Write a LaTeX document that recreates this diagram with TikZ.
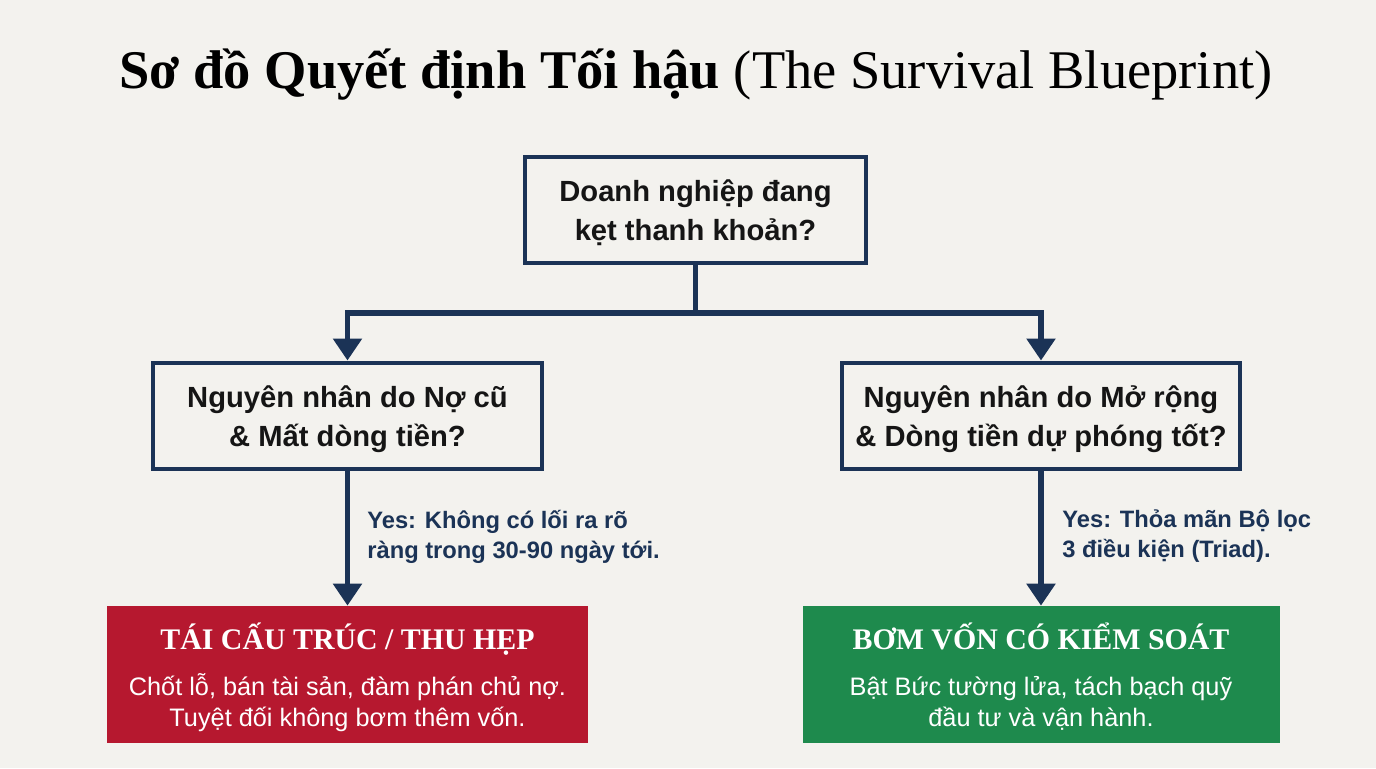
\documentclass[tikz,border=0pt]{standalone}
\usepackage{fontspec}
\setmainfont{Liberation Sans}
\newfontfamily\headfont{Liberation Serif}
\usetikzlibrary{arrows.meta}
\definecolor{paper}{RGB}{243,242,238}
\definecolor{ink}{RGB}{27,51,86}
\definecolor{stopred}{RGB}{182,24,47}
\definecolor{gogreen}{RGB}{30,138,77}
\pgfdeclarelayer{bglayer}
\pgfdeclarelayer{edgelayer}
\pgfdeclarelayer{nodelayer}
\pgfsetlayers{bglayer,edgelayer,nodelayer,main}
\tikzset{font=\fontsize{16.6}{22}\selectfont}
\tikzstyle{none}=[inner sep=0pt]
\tikzstyle{heading}=[inner sep=0pt,font=\headfont\fontsize{31}{36}\selectfont]
\tikzstyle{question}=[draw=ink,line width=2.8pt,fill=paper,text={rgb,255:red,21;green,21;blue,21},align=center,inner sep=0pt,minimum height=2.12cm,text depth=-2pt,font=\bfseries\fontsize{16.6}{22}\selectfont]
\tikzstyle{stopbox}=[fill=stopred,text=white,align=center,inner sep=0pt,minimum height=2.74cm,text depth=0pt,font=\fontsize{14.4}{17.4}\selectfont]
\tikzstyle{gobox}=[fill=gogreen,text=white,align=center,inner sep=0pt,minimum height=2.74cm,text depth=0pt,font=\fontsize{14.4}{17.4}\selectfont]
\tikzstyle{yes}=[anchor=west,align=left,text=ink,inner sep=0pt,font=\bfseries\fontsize{13.5}{17}\selectfont]
\tikzstyle{trunk}=[draw=ink,line width=3.4pt]
\tikzstyle{flow}=[draw=ink,line width=3.4pt,-{Triangle[width=0.56cm,length=0.44cm]}]
\newcommand{\verdicttitle}[1]{{\headfont\bfseries\fontsize{17}{20}\selectfont #1}}

\begin{document}
\begin{tikzpicture}
	\begin{pgfonlayer}{bglayer}
		\fill[paper] (-13.76,-7.68) rectangle (13.76,7.68);
	\end{pgfonlayer}
	\begin{pgfonlayer}{nodelayer}
		\node [style=heading] (8) at (0.16, 6.18) {\bfseries Sơ đồ Quyết định Tối hậu \mdseries(The Survival Blueprint)};
		\node [style=question, minimum width=6.82cm] (0) at (0.15, 3.48) {Doanh nghiệp đang\\kẹt thanh khoản?};
		\node [style=question, minimum width=7.78cm] (1) at (-6.81, -0.64) {Nguyên nhân do Nợ cũ\\\& Mất dòng tiền?};
		\node [style=question, minimum width=7.96cm] (2) at (7.06, -0.64) {Nguyên nhân do Mở rộng\\\& Dòng tiền dự phóng tốt?};
		\node [style=stopbox, minimum width=9.62cm] (3) at (-6.81, -5.81) {\verdicttitle{TÁI CẤU TRÚC / THU HẸP}\\[9pt]Chốt lỗ, bán tài sản, đàm phán chủ nợ.\\Tuyệt đối không bơm thêm vốn.};
		\node [style=gobox, minimum width=9.54cm] (4) at (7.06, -5.81) {\verdicttitle{BƠM VỐN CÓ KIỂM SOÁT}\\[9pt]Bật Bức tường lửa, tách bạch quỹ\\đầu tư và vận hành.};
		\coordinate (5) at (0.15, 1.42);
		\node [style=yes] (6) at (-6.42, -3.05) {Yes: Không có lối ra rõ\\ràng trong 30-90 ngày tới.};
		\node [style=yes] (7) at (7.48, -3.05) {Yes: Thỏa mãn Bộ lọc\\3 điều kiện (Triad).};
	\end{pgfonlayer}
	\begin{pgfonlayer}{edgelayer}
		\draw [style=trunk] (0) to (5);
		\draw [style=flow] (5) -| (1);
		\draw [style=flow] (5) -| (2);
		\draw [style=flow] (1) to (3);
		\draw [style=flow] (2) to (4);
	\end{pgfonlayer}
\end{tikzpicture}
\end{document}
